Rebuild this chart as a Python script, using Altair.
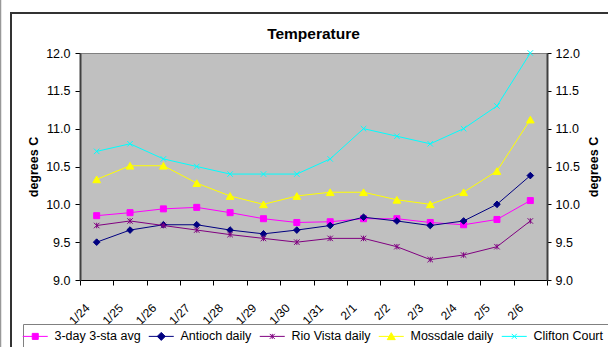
import altair as alt
import pandas as pd

# ---------------- data ----------------
DATES = ["1/24", "1/25", "1/26", "1/27", "1/28", "1/29", "1/30",
         "1/31", "2/1", "2/2", "2/3", "2/4", "2/5", "2/6"]
SERIES = ["3-day 3-sta avg", "Antioch daily", "Rio Vista daily",
          "Mossdale daily", "Clifton Court"]
AVG_3DAY = [9.85, 9.89, 9.94, 9.96, 9.89, 9.81, 9.76, 9.77, 9.81, 9.81, 9.76, 9.73, 9.80, 10.05]
ANTIOCH = [9.50, 9.66, 9.73, 9.73, 9.66, 9.61, 9.66, 9.72, 9.83, 9.78, 9.72, 9.78, 10.00, 10.38]
RIO_VISTA = [9.72, 9.78, 9.72, 9.66, 9.60, 9.55, 9.50, 9.55, 9.55, 9.44, 9.27, 9.33, 9.44, 9.78]
MOSSDALE = [10.33, 10.51, 10.51, 10.28, 10.11, 10.00, 10.11, 10.16, 10.16, 10.06, 10.00, 10.16, 10.44, 11.12]
CLIFTON = [10.70, 10.80, 10.60, 10.50, 10.40, 10.40, 10.40, 10.60, 11.00, 10.90, 10.80, 11.00, 11.30, 12.00]
Y_TICKS = [9.0, 9.5, 10.0, 10.5, 11.0, 11.5, 12.0]
Y_DOMAIN = [9.0, 12.0]

VALUES = [AVG_3DAY, ANTIOCH, RIO_VISTA, MOSSDALE, CLIFTON]
rows = []
for name, vals in zip(SERIES, VALUES):
    for d, v in zip(DATES, vals):
        rows.append({"date": d, "series": name, "temp": v})
df = pd.DataFrame(rows)

# ---------------- styles ----------------
COLORS = ["#FF00FF", "#000080", "#800080", "#FFFF00", "#00FFFF"]
MARKERS = [
    ("square", 36),
    ("diamond", 44),
    ("M-1,-1L1,1M-1,1L1,-1M0,-1L0,1", 30),
    ("triangle-up", 60),
    ("M-1,-1L1,1M-1,1L1,-1", 30),
]
# legend symbols: short line + marker (unit = 5 px for size 100)
LEGEND_PATHS = [
    "M-2.5,0H2.5M-0.6,-0.6H0.6V0.6H-0.6Z",
    "M-2.5,0H2.5M0,-0.8L0.8,0L0,0.8L-0.8,0Z",
    "M-2.5,0H2.5M-0.5,-0.5L0.5,0.5M-0.5,0.5L0.5,-0.5M0,-0.5L0,0.5",
    "M-2.5,0H2.5M0,-0.75L0.8,0.65L-0.8,0.65Z",
    "M-2.5,0H2.5M-0.5,-0.5L0.5,0.5M-0.5,0.5L0.5,-0.5",
]
FONT = "Liberation Sans"
W, H = 467, 227
LEFT, TOP = 80, 53

x_axis = alt.Axis(title=None, tickBand="extent", tickSize=5, tickColor="black",
                  domainColor="black", domainWidth=1, labelAngle=-45,
                  labelFont=FONT, labelFontSize=12, labelColor="black",
                  labelPadding=17, labelOffset=-13, grid=False)
x_enc = alt.X("date:N", sort=DATES,
              scale=alt.Scale(type="band", domain=DATES, paddingInner=0, paddingOuter=0),
              axis=x_axis)
y_scale = alt.Scale(domain=Y_DOMAIN, zero=False, nice=False)
y_enc = alt.Y("temp:Q", scale=y_scale, axis=None)

base = alt.Chart(df)

layers = []

axis_layer = base.transform_filter("false").mark_point(opacity=0).encode(
    x=x_enc,
    y=alt.Y("temp:Q", scale=y_scale,
            axis=alt.Axis(title="degrees C", values=Y_TICKS, format=".1f", orient="left",
                          tickSize=5, tickColor="black", domainColor="#404040", domainWidth=2,
                          labelFont=FONT, labelFontSize=12.5, labelColor="black", labelPadding=5,
                          titleFont=FONT, titleFontSize=12.5, titleFontWeight="bold",
                          titleColor="black", titleAngle=270, titleBaseline="middle",
                          titleX=-47, titleY=H / 2, grid=False)),
)
layers.append(axis_layer)

right_axis = base.transform_filter("false").mark_point(opacity=0).encode(
    x=x_enc,
    y=alt.Y("temp:Q", scale=y_scale,
            axis=alt.Axis(title="degrees C", values=Y_TICKS, format=".1f", orient="right",
                          tickSize=4, tickColor="black", domainColor="#404040", domainWidth=2,
                          labelFont=FONT, labelFontSize=12.5, labelColor="black", labelPadding=4,
                          titleFont=FONT, titleFontSize=12.5, titleFontWeight="bold",
                          titleColor="black", titleAngle=270, titleBaseline="middle",
                          titleX=46, titleY=H / 2, grid=False)),
)
layers.append(right_axis)

for name, col, (shape, size) in zip(SERIES, COLORS, MARKERS):
    sub = base.transform_filter(alt.datum.series == name)
    layers.append(sub.mark_line(color=col, strokeWidth=1).encode(x=x_enc, y=y_enc))
    layers.append(sub.mark_point(shape=shape, size=size, filled=True, fill=col, stroke=col,
                                 strokeWidth=1, opacity=1).encode(x=x_enc, y=y_enc))

leg = alt.Legend(orient="none", legendX=23 - LEFT, legendY=324 - TOP, direction="horizontal",
                 columns=5, title=None, labelFont=FONT, labelFontSize=12.5, labelColor="black",
                 symbolSize=100, symbolStrokeWidth=1, strokeColor="#808080", fillColor="white",
                 padding=6, columnPadding=5, labelOffset=13)
legend_layer = base.transform_filter("false").mark_point(filled=True, opacity=1, strokeWidth=1).encode(
    x=x_enc, y=y_enc,
    color=alt.Color("series:N", scale=alt.Scale(domain=SERIES, range=COLORS), legend=leg),
    stroke=alt.Stroke("series:N", scale=alt.Scale(domain=SERIES, range=COLORS), legend=leg),
    shape=alt.Shape("series:N", scale=alt.Scale(domain=SERIES, range=LEGEND_PATHS), legend=leg),
)
layers.append(legend_layer)

one = alt.Chart(alt.Data(values=[{"k": 1}]))
frame_top = one.mark_rule(color="#333333", strokeWidth=2).encode(
    x=alt.value(10 - LEFT), x2=alt.value(620 - LEFT), y=alt.value(13 - TOP))
frame_left = one.mark_rule(color="#333333", strokeWidth=2).encode(
    x=alt.value(11 - LEFT), y=alt.value(12 - TOP), y2=alt.value(360 - TOP))
edge_left = one.mark_rule(color="#999999", strokeWidth=1.5).encode(
    x=alt.value(0.5 - LEFT), y=alt.value(-TOP), y2=alt.value(360 - TOP))
layers += [frame_top, frame_left, edge_left]

chart = alt.layer(*layers).resolve_scale(y="independent").properties(
    width=W, height=H,
    autosize=alt.AutoSizeParams(type="none"),
    padding={"left": LEFT, "top": TOP, "right": 608 - LEFT - W, "bottom": 347 - TOP - H},
    title=alt.TitleParams("Temperature", font=FONT, fontSize=15.5, fontWeight="bold",
                          color="black", anchor="middle", offset=0, dy=43),
    background="white",
).configure_view(fill="#C0C0C0", stroke="#808080", strokeWidth=1)

chart.save("out.html", embed_options={"renderer": "svg", "actions": False})
